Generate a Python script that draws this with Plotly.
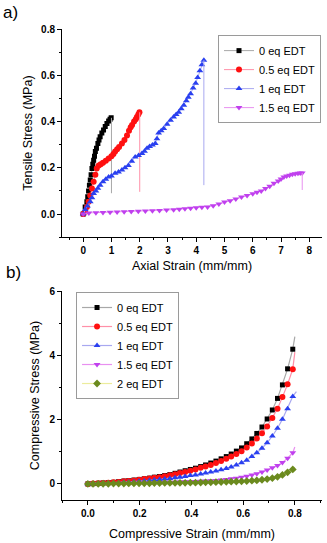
import plotly.graph_objects as go

# ---- a) tensile data ----
t0_x = [0, 0.07, 0.13, 0.16, 0.19, 0.22, 0.25, 0.28, 0.31, 0.34, 0.37, 0.40, 0.43, 0.47,
        0.52, 0.56, 0.60, 0.66, 0.72, 0.78, 0.84, 0.90, 0.95, 0.99]
t0_y = [0, 0.03, 0.053, 0.075, 0.10, 0.125, 0.147, 0.17, 0.197, 0.215, 0.233, 0.25, 0.27, 0.285,
        0.305, 0.32, 0.334, 0.35, 0.363, 0.378, 0.392, 0.402, 0.41, 0.416]

t05_x = [0, 0.07, 0.13, 0.19, 0.25, 0.31, 0.37, 0.43, 0.48, 0.55, 0.62, 0.70, 0.80, 0.90, 1.0,
         1.07, 1.13, 1.20, 1.27, 1.37, 1.46, 1.55, 1.62, 1.68, 1.73, 1.80, 1.86, 1.90, 1.95, 1.99]
t05_y = [0, 0.01, 0.03, 0.053, 0.08, 0.11, 0.14, 0.17, 0.197, 0.21, 0.215, 0.222, 0.23, 0.24, 0.25,
         0.26, 0.27, 0.28, 0.29, 0.305, 0.32, 0.34, 0.36, 0.375, 0.385, 0.40, 0.41, 0.42, 0.43, 0.44]

t1_x = [0, 0.07, 0.15, 0.25, 0.31, 0.37, 0.45, 0.52, 0.6, 0.7, 0.8, 0.9, 1.0, 1.13, 1.25, 1.37,
        1.48, 1.6, 1.72, 1.84, 1.96, 2.08, 2.17, 2.26, 2.35, 2.45, 2.55, 2.61, 2.67, 2.76, 2.85,
        2.97, 3.09, 3.2, 3.29, 3.38, 3.47, 3.56, 3.65, 3.72, 3.8, 3.89, 3.98, 4.05, 4.13, 4.2, 4.27]
t1_y = [0, 0.02, 0.035, 0.053, 0.07, 0.089, 0.10, 0.112, 0.125, 0.14, 0.15, 0.16, 0.165, 0.176,
        0.182, 0.19, 0.20, 0.21, 0.228, 0.247, 0.253, 0.262, 0.272, 0.284, 0.292, 0.298, 0.305,
        0.325, 0.35, 0.36, 0.37, 0.388, 0.406, 0.42, 0.43, 0.44, 0.455, 0.47, 0.49, 0.505, 0.52,
        0.545, 0.565, 0.59, 0.62, 0.645, 0.665]

t15_x = [0, 0.2, 0.45, 0.7, 0.95, 1.2, 1.45, 1.7, 1.95, 2.2, 2.45, 2.7, 2.95, 3.2, 3.4, 3.6, 3.8,
         4.0, 4.2, 4.4, 4.6, 4.8, 5.0, 5.2, 5.4, 5.6, 5.8, 6.0, 6.15, 6.3, 6.45, 6.6, 6.75, 6.9,
         7.0, 7.1, 7.2, 7.3, 7.4, 7.5, 7.6, 7.68, 7.75]
t15_y = [0, 0.005, 0.006, 0.007, 0.008, 0.009, 0.01, 0.011, 0.012, 0.013, 0.014, 0.015, 0.017,
         0.019, 0.021, 0.023, 0.025, 0.027, 0.029, 0.031, 0.036, 0.043, 0.052, 0.058, 0.065,
         0.074, 0.08, 0.088, 0.094, 0.10, 0.11, 0.12, 0.133, 0.143, 0.152, 0.16, 0.165, 0.168,
         0.172, 0.174, 0.176, 0.177, 0.178]

# break points (strain at failure, stress after drop)
break_x = [1.0, 2.0, 4.27, 7.75]
break_low = [0.09, 0.096, 0.125, 0.104]

# ---- b) compressive data ----
c_x = [0, 0.020, 0.040, 0.059, 0.079, 0.099, 0.119, 0.139, 0.158, 0.178, 0.198, 0.218, 0.238,
       0.257, 0.277, 0.297, 0.317, 0.337, 0.356, 0.376, 0.396, 0.416, 0.436, 0.455, 0.475,
       0.495, 0.515, 0.535, 0.554, 0.574, 0.594, 0.614, 0.634, 0.653, 0.673, 0.693, 0.713,
       0.733, 0.752, 0.772, 0.792]
c0_y = [0, 0.01, 0.02, 0.03, 0.04, 0.05, 0.07, 0.09, 0.10, 0.12, 0.14, 0.16, 0.18, 0.21, 0.23,
        0.26, 0.29, 0.33, 0.37, 0.41, 0.45, 0.49, 0.54, 0.59, 0.65, 0.71, 0.78, 0.85, 0.93, 1.02,
        1.12, 1.25, 1.40, 1.57, 1.77, 2.02, 2.30, 2.66, 3.08, 3.58, 4.19]
c05_y = [0, 0.01, 0.02, 0.03, 0.04, 0.05, 0.06, 0.08, 0.09, 0.11, 0.13, 0.15, 0.17, 0.19, 0.21,
         0.24, 0.27, 0.30, 0.34, 0.37, 0.41, 0.45, 0.50, 0.54, 0.59, 0.65, 0.71, 0.78, 0.85, 0.93,
         1.02, 1.13, 1.26, 1.41, 1.58, 1.79, 2.05, 2.34, 2.70, 3.10, 3.57]
c1_y = [0, 0.005, 0.01, 0.02, 0.025, 0.03, 0.04, 0.05, 0.06, 0.07, 0.08, 0.09, 0.105, 0.12,
        0.135, 0.15, 0.17, 0.19, 0.21, 0.23, 0.26, 0.28, 0.31, 0.34, 0.37, 0.40, 0.44, 0.48,
        0.53, 0.59, 0.66, 0.74, 0.85, 0.97, 1.11, 1.28, 1.49, 1.73, 2.01, 2.34, 2.72]
c15_y = [0, 0, 0.005, 0.01, 0.01, 0.015, 0.02, 0.02, 0.025, 0.03, 0.03, 0.035, 0.04, 0.04,
         0.045, 0.05, 0.05, 0.055, 0.06, 0.065, 0.07, 0.075, 0.08, 0.09, 0.10, 0.11, 0.12, 0.14,
         0.16, 0.18, 0.21, 0.24, 0.28, 0.32, 0.37, 0.43, 0.50, 0.57, 0.67, 0.80, 0.97]
c2_y = [0, 0, 0, 0.005, 0.005, 0.01, 0.01, 0.01, 0.015, 0.015, 0.02, 0.02, 0.02, 0.025, 0.025,
        0.03, 0.03, 0.03, 0.035, 0.035, 0.04, 0.04, 0.045, 0.05, 0.05, 0.055, 0.06, 0.065, 0.07,
        0.075, 0.08, 0.09, 0.10, 0.11, 0.13, 0.15, 0.18, 0.22, 0.28, 0.36, 0.45]
# fitted lines run a bit past the last marker
fit_end_x = [0.80, 0.80, 0.806, 0.80, 0.80]
fit_end_y = [4.58, 4.10, 2.87, 1.15, 0.52]

names_a = ['0 eq EDT', '0.5 eq EDT', '1 eq EDT', '1.5 eq EDT']
names_b = ['0 eq EDT', '0.5 eq EDT', '1 eq EDT', '1.5 eq EDT', '2 eq EDT']
mcol = ['#000000', '#ff1010', '#2a40f0', '#c040ee', '#6b8a1e']
lcol = ['#a8a8a8', '#ff90a8', '#a8a8f0', '#e890f0', '#ecec9c']
syms = ['square', 'circle', 'triangle-up', 'triangle-down', 'diamond']
msz = [5, 6, 6, 6, 6]

FONT = 'Liberation Sans'

fig = go.Figure()

tens = [(t0_x, t0_y), (t05_x, t05_y), (t1_x, t1_y), (t15_x, t15_y)]
for i, (xs, ys) in enumerate(tens):
    fig.add_trace(go.Scatter(x=xs, y=ys, mode='lines+markers', name=names_a[i],
                             line=dict(color=lcol[i], width=1),
                             marker=dict(color=mcol[i], symbol=syms[i], size=msz[i]),
                             xaxis='x', yaxis='y', legend='legend'))
    # vertical drop after failure
    fig.add_trace(go.Scatter(x=[break_x[i], break_x[i]], y=[ys[-1], break_low[i]],
                             mode='lines', showlegend=False, hoverinfo='skip',
                             line=dict(color=lcol[i], width=1),
                             xaxis='x', yaxis='y'))

comp = [c0_y, c05_y, c1_y, c15_y, c2_y]
for i, ys in enumerate(comp):
    fig.add_trace(go.Scatter(x=[c_x[-1], fit_end_x[i]], y=[ys[-1], fit_end_y[i]],
                             mode='lines', showlegend=False, hoverinfo='skip',
                             line=dict(color=lcol[i], width=1.2),
                             xaxis='x2', yaxis='y2'))
for i, ys in enumerate(comp):
    fig.add_trace(go.Scatter(x=c_x, y=ys, mode='lines+markers', name=names_b[i],
                             line=dict(color=lcol[i], width=1.2),
                             marker=dict(color=mcol[i], symbol=syms[i], size=msz[i]),
                             xaxis='x2', yaxis='y2', legend='legend2'))

tickfont = dict(family=FONT, size=10, color='black', weight='bold')
titlefont = dict(family=FONT, size=12.5, color='black')
common = dict(showline=True, linecolor='black', linewidth=1, ticks='outside', ticklen=4,
              tickcolor='black', tickfont=tickfont, showgrid=False, zeroline=False,
              mirror=False, automargin=False)

fig.update_layout(
    width=327, height=543,
    margin=dict(l=62, r=5, t=29, b=43, autoexpand=False),
    paper_bgcolor='white', plot_bgcolor='white',
    font=dict(family=FONT, color='black'),
    xaxis=dict(domain=[0, 1], anchor='y', range=[-0.75, 8.45], dtick=1,
               minor=dict(ticks='outside', ticklen=2, dtick=0.5, tickcolor='black'),
               title=dict(text='Axial Strain (mm/mm)', font=titlefont, standoff=6), **common),
    yaxis=dict(domain=[0.558, 1], anchor='x', range=[-0.1, 0.8], dtick=0.2, tickformat='.1f',
               minor=dict(ticks='outside', ticklen=2, dtick=0.1, tickcolor='black'),
               title=dict(text='Tensile Stress (MPa)', font=titlefont, standoff=5), **common),
    xaxis2=dict(domain=[0, 1], anchor='y2', range=[-0.1, 0.905], dtick=0.2, tickformat='.1f',
                minor=dict(ticks='outside', ticklen=2, dtick=0.1, tickcolor='black'),
                title=dict(text='Compressive Strain (mm/mm)', font=titlefont, standoff=11), **common),
    yaxis2=dict(domain=[0, 0.4437], anchor='x2', range=[-0.5, 6], dtick=2,
                minor=dict(ticks='outside', ticklen=2, dtick=1, tickcolor='black'),
                title=dict(text='Compressive Stress (MPa)', font=titlefont, standoff=7), **common),
    legend=dict(x=0.6, y=0.987, xanchor='left', yanchor='top', bgcolor='white',
                bordercolor='#9a9a9a', borderwidth=1, itemwidth=30,
                font=dict(family=FONT, size=11, color='black'), tracegroupgap=0),
    legend2=dict(x=0.054, y=0.4416, xanchor='left', yanchor='top', bgcolor='white',
                 bordercolor='#9a9a9a', borderwidth=1, itemwidth=30,
                 font=dict(family=FONT, size=11, color='black'), tracegroupgap=0),
    showlegend=True,
    annotations=[
        dict(text='a)', x=-0.235, y=1.036, xref='paper', yref='paper', xanchor='left',
             yanchor='middle', showarrow=False, font=dict(family=FONT, size=17, color='black')),
        dict(text='b)', x=-0.225, y=0.482, xref='paper', yref='paper', xanchor='left',
             yanchor='middle', showarrow=False, font=dict(family=FONT, size=17, color='black')),
    ],
)

# drop the browser's default 8px body margin so the figure sits at the window's corner
fig.write_html('out.html', config={'displayModeBar': False},
               post_script="document.body.style.margin='0';")
